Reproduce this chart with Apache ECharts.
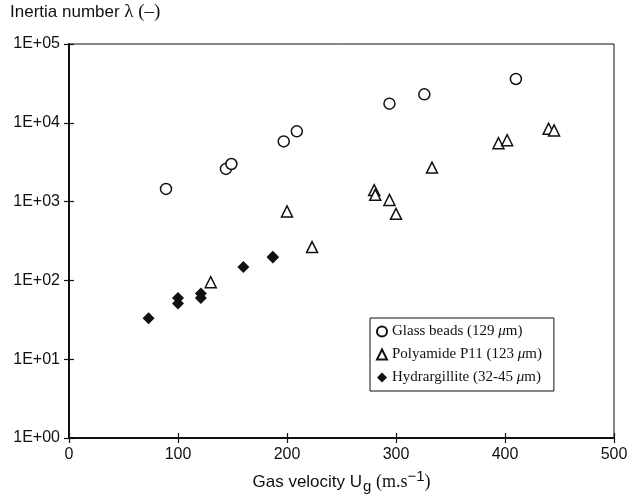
<!DOCTYPE html>
<html>
<head>
<meta charset="utf-8">
<script src="https://cdn.jsdelivr.net/npm/echarts@6/dist/echarts.min.js"></script>
<style>html,body{margin:0;padding:0;background:#fff}#c{width:628px;height:494px}</style>
</head>
<body>
<div id="c"></div>
<script>
// Data (gas velocity m/s, inertia number)
const glassX = [89, 144, 149, 197, 209, 294, 326, 410];
const glassY = [1450, 2600, 3000, 5800, 7800, 17500, 23000, 36000];
const polyX = [130, 200, 223, 280, 281, 294, 300, 333, 394, 402, 440, 445];
const polyY = [95, 750, 265, 1400, 1220, 1050, 700, 2700, 5500, 6000, 8400, 8000];
const hydX = [73, 100, 100, 121, 121, 160, 187, 187];
const hydY = [33, 60, 51, 68, 60, 148, 195, 200];
const seriesNames = ['Glass beads (129 μm)', 'Polyamide P11 (123 μm)', 'Hydrargillite (32-45 μm)'];
const xTicks = [0, 100, 200, 300, 400, 500];
const yTickExps = [0, 1, 2, 3, 4, 5];

const pairs = (xs, ys) => xs.map((x, i) => [x, ys[i]]);
const sans = 'Liberation Sans, Arial, sans-serif';
const serif = 'Liberation Serif, Times New Roman, serif';
const ink = '#111';

const chart = echarts.init(document.getElementById('c'), null, {renderer: 'canvas'});
const hollow = {color: '#fff', borderColor: ink, borderWidth: 1.5, opacity: 1};

chart.setOption({
  animation: false,
  grid: {left: 69, right: 14, top: 44, bottom: 56, containLabel: false, outerBoundsMode: 'none',
    show: true, borderColor: ink, borderWidth: 1, backgroundColor: 'transparent'},
  xAxis: [{
    type: 'value', min: xTicks[0], max: xTicks[xTicks.length - 1], interval: 100,
    axisLine: {show: true, lineStyle: {color: ink, width: 2}},
    axisTick: {show: true, length: 5, lineStyle: {color: ink, width: 1.2}},
    axisLabel: {color: ink, fontFamily: sans, fontSize: 16, margin: 9},
    splitLine: {show: false},
    name: '{a|Gas velocity U}{sub|g}{b| (m.s}{sup|−1}{b|)}',
    nameLocation: 'middle', nameGap: 31,
    nameTextStyle: {
      rich: {
        a: {fontFamily: sans, fontSize: 17, color: ink},
        b: {fontFamily: serif, fontSize: 18, color: ink},
        sub: {fontFamily: sans, fontSize: 15, color: ink, padding: [8, 0, 0, 1]},
        sup: {fontFamily: sans, fontSize: 15, color: ink, padding: [0, 0, 12, 0]}
      }
    }
  }, {
    type: 'value', min: 0, max: 500, interval: 100, position: 'bottom',
    axisLine: {show: false},
    axisTick: {show: true, inside: true, length: 5, lineStyle: {color: ink, width: 1.2}},
    axisLabel: {show: false}, splitLine: {show: false}
  }],
  yAxis: [{
    type: 'log', logBase: 10, min: Math.pow(10, yTickExps[0]), max: Math.pow(10, yTickExps[yTickExps.length - 1]),
    axisLine: {show: true, lineStyle: {color: ink, width: 2}},
    axisTick: {show: true, length: 5, lineStyle: {color: ink, width: 1.2}},
    minorTick: {show: false},
    axisLabel: {color: ink, fontFamily: sans, fontSize: 16, margin: 9,
      formatter: v => { const e = Math.round(Math.log10(v)); return '1E+' + (e < 10 ? '0' + e : e); }},
    splitLine: {show: false}
  }, {
    type: 'log', logBase: 10, min: 1, max: 100000, position: 'left',
    axisLine: {show: false},
    axisTick: {show: true, inside: true, length: 5, lineStyle: {color: ink, width: 1.2}},
    axisLabel: {show: false}, splitLine: {show: false}
  }],
  legend: {
    orient: 'vertical', left: 370, top: 318,
    data: seriesNames,
    backgroundColor: '#fff', borderColor: ink, borderWidth: 1,
    padding: [6, 12, 6, 6], itemGap: 8, itemWidth: 10, itemHeight: 10,
    formatter: n => n.replace('μ', '{it|μ}'),
    textStyle: {
      fontFamily: serif, fontSize: 15, color: ink,
      rich: {it: {fontFamily: serif, fontSize: 15, fontStyle: 'italic', color: ink}}
    }
  },
  graphic: [{
    type: 'text', left: 10, top: 3,
    style: {
      text: '{a|Inertia number }{b|λ (–)}',
      rich: {
        a: {fontFamily: sans, fontSize: 17, fill: ink},
        b: {fontFamily: serif, fontSize: 19, fill: ink}
      }
    }
  }],
  series: [{
    name: seriesNames[0], type: 'scatter', symbol: 'circle', symbolSize: 11,
    itemStyle: hollow, data: pairs(glassX, glassY)
  }, {
    name: seriesNames[1], type: 'scatter', symbol: 'triangle', symbolSize: 11,
    itemStyle: hollow, data: pairs(polyX, polyY)
  }, {
    name: seriesNames[2], type: 'scatter', symbol: 'diamond', symbolSize: 12,
    itemStyle: {color: ink, opacity: 1}, data: pairs(hydX, hydY)
  }]
});
</script>
</body>
</html>
